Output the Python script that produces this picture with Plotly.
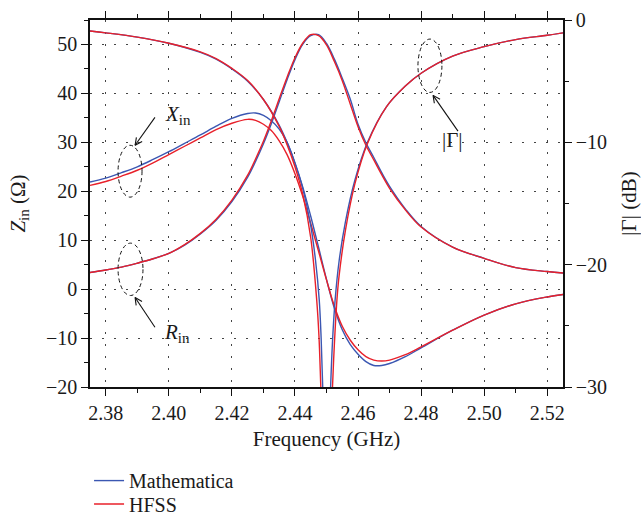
import math
import plotly.graph_objects as go

# ---------------- data ----------------
freq_z = [2.375, 2.38, 2.385, 2.39, 2.395, 2.40, 2.405, 2.41, 2.415, 2.42,
          2.425, 2.4275, 2.43, 2.4325, 2.435, 2.4375, 2.44, 2.4425, 2.445, 2.4475,
          2.45, 2.4525, 2.455, 2.4575, 2.46, 2.4625, 2.465, 2.4675, 2.47, 2.475,
          2.48, 2.49, 2.50, 2.51, 2.52, 2.525]

rin_math = [3.4, 3.9, 4.5, 5.3, 6.2, 7.3, 9.0, 11.3, 14.1, 17.9,
            22.9, 26.1, 29.7, 33.8, 38.3, 42.8, 46.9, 50.1, 51.8, 52.0,
            50.2, 47.0, 43.1, 38.9, 33.7, 29.9, 26.9, 23.8, 21.0, 16.4,
            12.8, 8.6, 6.3, 4.4, 3.6, 3.3]
rin_hfss = [3.4, 3.9, 4.5, 5.3, 6.2, 7.3, 9.1, 11.4, 14.3, 18.2,
            23.3, 26.6, 30.2, 34.4, 38.9, 43.3, 47.3, 50.3, 52.0, 51.8,
            49.9, 46.5, 42.6, 37.9, 33.2, 29.4, 26.4, 23.4, 20.6, 16.2,
            12.7, 8.6, 6.3, 4.4, 3.6, 3.3]

xin_math = [21.9, 22.7, 23.8, 25.0, 26.5, 28.1, 29.8, 31.5, 33.3, 34.9,
            35.9, 36.0, 35.5, 34.4, 32.7, 30.0, 25.8, 20.8, 14.9, 8.5,
            2.0, -3.9, -8.3, -11.3, -13.3, -14.8, -15.6, -15.6, -15.2, -13.8,
            -12.0, -8.4, -5.3, -3.0, -1.6, -1.1]
xin_hfss = [21.2, 22.0, 23.1, 24.3, 25.8, 27.5, 29.2, 30.9, 32.6, 33.9,
            34.7, 34.5, 33.7, 32.4, 30.3, 27.5, 23.6, 18.9, 13.4, 7.7,
            1.9, -3.5, -7.6, -10.4, -12.4, -13.8, -14.5, -14.7, -14.5, -13.4,
            -11.8, -8.4, -5.3, -3.0, -1.6, -1.1]

freq_g_math = [2.375, 2.38, 2.39, 2.40, 2.41, 2.415, 2.42, 2.425, 2.43, 2.435,
               2.4375, 2.44, 2.4425, 2.445, 2.4465, 2.4477, 2.4483, 2.4488, 2.4494, 2.45005,
               2.4507, 2.4513, 2.4519, 2.4527, 2.454, 2.456, 2.459, 2.463, 2.469, 2.475,
               2.48, 2.49, 2.50, 2.51, 2.52, 2.525]
gamma_math = [-0.9, -1.05, -1.4, -1.9, -2.65, -3.2, -4.0, -5.0, -6.5, -8.6,
              -10.0, -11.7, -13.8, -16.8, -19.6, -22.9, -26.0, -30.0, -34.5, -38.0,
              -34.5, -30.0, -26.3, -23.0, -19.7, -16.5, -13.1, -10.0, -7.1, -5.4,
              -4.35, -2.95, -2.18, -1.6, -1.25, -1.05]

freq_g_hfss = [2.375, 2.38, 2.39, 2.40, 2.41, 2.415, 2.42, 2.425, 2.43, 2.435,
               2.4375, 2.44, 2.4425, 2.445, 2.4469, 2.4476, 2.4482, 2.4490, 2.45005, 2.4511,
               2.4519, 2.4525, 2.4533, 2.454, 2.456, 2.459, 2.463, 2.469, 2.475, 2.48,
               2.49, 2.50, 2.51, 2.52, 2.525]
gamma_hfss = [-0.9, -1.05, -1.4, -1.9, -2.6, -3.15, -3.95, -4.95, -6.5, -8.7,
              -10.2, -12.0, -14.3, -17.8, -22.9, -25.8, -30.0, -36.0, -42.0, -36.0,
              -30.0, -26.5, -22.9, -20.9, -17.2, -13.4, -10.1, -7.1, -5.4, -4.35,
              -2.95, -2.18, -1.6, -1.25, -1.05]

x_ticks = [2.38, 2.40, 2.42, 2.44, 2.46, 2.48, 2.50, 2.52]
x_ticklabels = ["2.38", "2.40", "2.42", "2.44", "2.46", "2.48", "2.50", "2.52"]
y_ticks = [-20, -10, 0, 10, 20, 30, 40, 50]
y_ticklabels = ["\u221220", "\u221210", "0", "10", "20", "30", "40", "50"]
y2_ticks = [-30, -20, -10, 0]
y2_ticklabels = ["\u221230", "\u221220", "\u221210", "0"]

X_RANGE = [2.375, 2.525]
Y_RANGE = [-20, 55]
Y2_RANGE = [-30, 0]

# ---------------- style ----------------
BLUE = "#3B57B2"
RED = "#E8202A"
FONT = "Liberation Serif"
TXT = "#1a1a1a"
LW = 1.4
f_tick = dict(family=FONT, size=20, color=TXT)
f_main = dict(family=FONT, size=21, color=TXT)
f_leg = dict(family=FONT, size=20, color=TXT)
SUB = "<sub><span style='font-size:15px'>in</span></sub>"

fig = go.Figure()

def add(x, y, color, name, axis, show, leg):
    fig.add_trace(go.Scatter(
        x=x, y=y, mode="lines", name=name, legendgroup=name, showlegend=show,
        legend=leg, yaxis=axis,
        line=dict(color=color, width=LW, shape="spline", smoothing=1.0),
        hoverinfo="skip"))

add(freq_z, rin_math, BLUE, "Mathematica", "y", True, "legend")
add(freq_z, xin_math, BLUE, "Mathematica", "y", False, "legend")
add(freq_z, rin_hfss, RED, "HFSS", "y", True, "legend2")
add(freq_z, xin_hfss, RED, "HFSS", "y", False, "legend2")
add(freq_g_math, gamma_math, BLUE, "Mathematica", "y2", False, "legend")
add(freq_g_hfss, gamma_hfss, RED, "HFSS", "y2", False, "legend2")

grid = dict(showgrid=True, gridcolor="#444", gridwidth=1, griddash="2px,10px")
tk = dict(ticks="outside", ticklen=7, tickwidth=1.2, tickcolor="#111",
          tickfont=f_tick, showline=True, linecolor="#111", linewidth=1.6,
          zeroline=False)

leg_common = dict(xanchor="left", yanchor="middle", bgcolor="rgba(0,0,0,0)",
                  font=f_leg, itemwidth=30, borderwidth=0)

W, H = 641, 516
ML, MR, MT, MB = 90, 78, 20, 129

fig.update_layout(
    width=W, height=H,
    margin=dict(l=ML, r=MR, t=MT, b=MB, autoexpand=False),
    paper_bgcolor="white", plot_bgcolor="white",
    font=f_main,
    showlegend=True,
    legend=dict(x=-0.002, y=-0.255, **leg_common),
    legend2=dict(x=-0.002, y=-0.319, **leg_common),
    xaxis=dict(range=X_RANGE, tickvals=x_ticks, ticktext=x_ticklabels,
               minor=dict(dtick=0.01, tick0=2.38, ticks="outside", ticklen=4,
                          tickwidth=1.2, tickcolor="#111", showgrid=False),
               mirror="ticks",
               title=dict(text="Frequency (GHz)", standoff=9, font=f_main),
               **tk, **grid),
    yaxis=dict(range=Y_RANGE, tickvals=y_ticks, ticktext=y_ticklabels,
               minor=dict(dtick=5, tick0=0, ticks="outside", ticklen=4,
                          tickwidth=1.2, tickcolor="#111", showgrid=False),
               title=dict(text="<i>Z</i>" + SUB + " (\u03a9)", standoff=15, font=f_main),
               **tk, **grid),
    yaxis2=dict(range=Y2_RANGE, overlaying="y", side="right",
                tickvals=y2_ticks, ticktext=y2_ticklabels,
                minor=dict(dtick=5, tick0=0, ticks="outside", ticklen=4,
                           tickwidth=1.2, tickcolor="#111", showgrid=False),
                showgrid=False,
                title=dict(text="|\u0393| (dB)", standoff=15, font=f_main),
                **tk),
)

# ---------------- annotations (dashed ellipses, arrows, labels) ----------------
ell = dict(type="circle", xref="x", yref="y",
           line=dict(color="#111", width=1, dash="4px,3px"))
fig.add_shape(x0=2.3839, x1=2.3915, y0=18.8, y1=29.4, **ell)
fig.add_shape(x0=2.3839, x1=2.3918, y0=-1.3, y1=9.4, **ell)
fig.add_shape(x0=2.4790, x1=2.4866, y0=40.2, y1=51.1, **ell)

# pixel scale of the axes, used only to shape the open arrowheads
px_x = (W - ML - MR) / (X_RANGE[1] - X_RANGE[0])
px_y = (H - MT - MB) / (Y_RANGE[1] - Y_RANGE[0])

def arrow(x_tail, y_tail, x_head, y_head, size=8, ang=26):
    seg = dict(type="line", xref="x", yref="y", line=dict(color="#111", width=1.1))
    fig.add_shape(x0=x_tail, y0=y_tail, x1=x_head, y1=y_head, **seg)
    dx = (x_tail - x_head) * px_x
    dy = (y_tail - y_head) * px_y
    L = math.hypot(dx, dy)
    ux, uy = dx / L, dy / L
    for s in (1, -1):
        a = math.radians(ang * s)
        vx = ux * math.cos(a) - uy * math.sin(a)
        vy = ux * math.sin(a) + uy * math.cos(a)
        fig.add_shape(x0=x_head, y0=y_head,
                      x1=x_head + vx * size / px_x, y1=y_head + vy * size / px_y, **seg)

arrow(2.3956, 35.1, 2.3893, 29.4)
arrow(2.3956, -7.8, 2.3893, -1.7)
arrow(2.4917, 32.3, 2.4838, 39.6)

lab = dict(xref="x", yref="y", showarrow=False, font=f_main)
fig.add_annotation(x=2.4030, y=35.5, text="<i>X</i>" + SUB, **lab)
fig.add_annotation(x=2.4025, y=-8.9, text="<i>R</i>" + SUB, **lab)
fig.add_annotation(x=2.4898, y=30.4, text="|\u0393|", **lab)

fig.write_html("out.html")
